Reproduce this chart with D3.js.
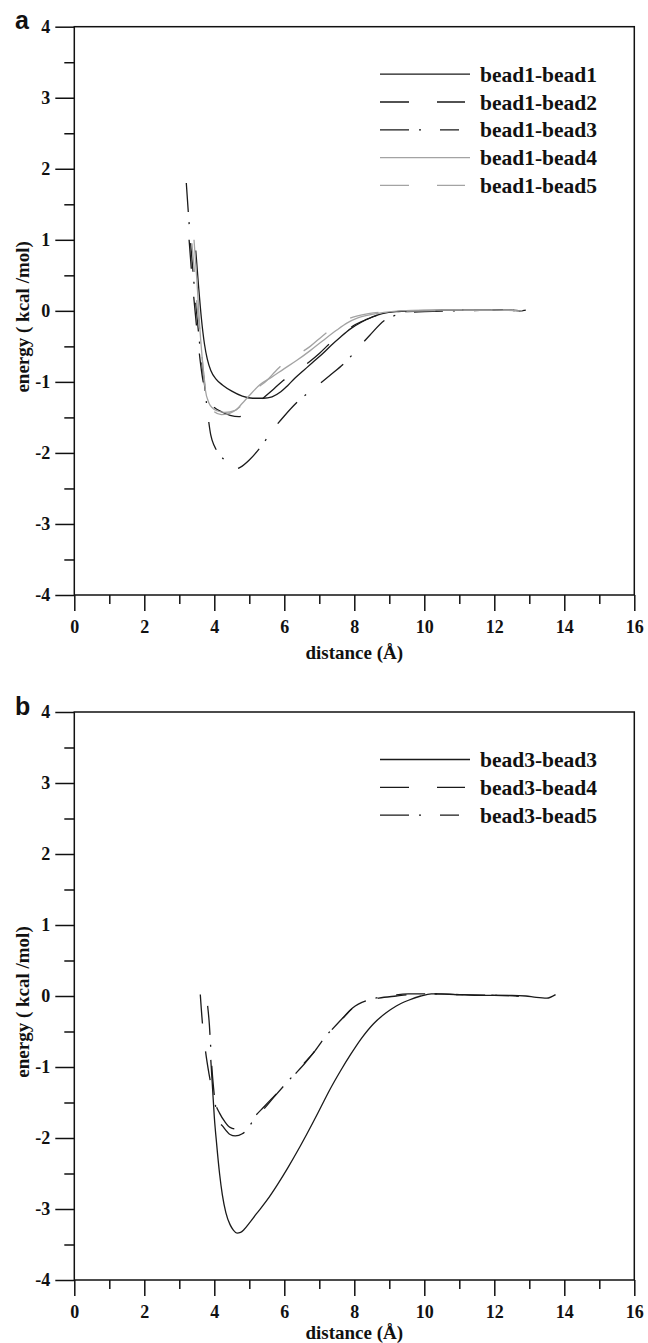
<!DOCTYPE html>
<html><head><meta charset="utf-8">
<script src="https://cdn.jsdelivr.net/npm/d3@7"></script>
<style>html,body{margin:0;padding:0;background:#fff;}svg{display:block;}</style>
</head><body>
<script>
// ---------- data ----------
const xMajorTicks = [0, 2, 4, 6, 8, 10, 12, 14, 16];
const xMinorTicks = [1, 3, 5, 7, 9, 11, 13, 15];
const yMajorTicks = [-4, -3, -2, -1, 0, 1, 2, 3, 4];
const yMinorTicks = [-3.5, -2.5, -1.5, -0.5, 0.5, 1.5, 2.5, 3.5];
const xTitle = "distance (Å)";
const yTitle = "energy ( kcal /mol)";

const namesA = ["bead1-bead1", "bead1-bead2", "bead1-bead3", "bead1-bead4", "bead1-bead5"];
const bead1bead1 = [[3.47,0.85],[3.55,0.35],[3.63,-0.1],[3.72,-0.47],[3.8,-0.68],[3.9,-0.84],[4.05,-0.96],[4.25,-1.05],[4.5,-1.13],[4.8,-1.2],[5.1,-1.23],[5.4,-1.23],[5.65,-1.21],[5.9,-1.14],[6.1,-1.05],[6.3,-0.95],[6.55,-0.84],[6.8,-0.73],[7.1,-0.6],[7.35,-0.48],[7.6,-0.37],[7.9,-0.25],[8.2,-0.16],[8.5,-0.09],[8.8,-0.04],[9.2,-0.01],[9.7,0.0],[10.5,0.01],[11.5,0.01],[12.5,0.01],[12.75,0.0],[12.9,0.01]];
const bead1bead2 = [[3.28,1.0],[3.35,0.55],[3.45,0.0],[3.55,-0.5],[3.65,-0.9],[3.75,-1.15],[3.85,-1.28],[4.0,-1.36],[4.2,-1.42],[4.45,-1.47],[4.7,-1.49],[4.85,-1.46],[5.05,-1.38],[5.35,-1.25],[5.65,-1.12],[5.92,-1.0],[6.3,-0.87],[6.71,-0.72],[7.0,-0.6],[7.3,-0.46],[7.65,-0.33],[7.97,-0.21],[8.35,-0.12],[8.73,-0.05],[9.2,-0.02],[10,0.0],[11,0.01],[12,0.01],[12.8,0.0]];
const bead1bead3 = [[3.2,1.8],[3.3,1.1],[3.4,0.5],[3.5,-0.05],[3.6,-0.55],[3.7,-0.95],[3.8,-1.4],[3.9,-1.75],[4.0,-1.9],[4.15,-2.02],[4.35,-2.13],[4.55,-2.23],[4.75,-2.2],[5.0,-2.1],[5.35,-1.9],[5.65,-1.69],[6.0,-1.48],[6.4,-1.27],[6.85,-1.09],[7.3,-0.91],[7.75,-0.72],[8.1,-0.53],[8.45,-0.34],[8.85,-0.14],[9.4,-0.04],[10,-0.01],[11,0.0],[12,0.01],[12.8,0.0]];
const bead1bead4 = [[3.42,1.0],[3.5,0.45],[3.59,-0.27],[3.67,-0.75],[3.74,-1.1],[3.85,-1.3],[3.95,-1.37],[4.1,-1.41],[4.3,-1.43],[4.6,-1.4],[4.8,-1.3],[4.95,-1.22],[5.3,-1.04],[5.65,-0.93],[5.98,-0.82],[6.35,-0.7],[6.74,-0.56],[7.1,-0.42],[7.5,-0.27],[7.8,-0.17],[8.1,-0.1],[8.5,-0.05],[8.85,-0.02],[9.3,0.0],[10,0.01],[11,0.01],[12,0.01],[12.8,0.0]];
const bead1bead5 = [[3.36,0.95],[3.45,0.45],[3.52,0.0],[3.58,-0.25],[3.66,-0.7],[3.74,-1.06],[3.85,-1.3],[4.0,-1.42],[4.2,-1.46],[4.4,-1.45],[4.6,-1.4],[4.8,-1.32],[4.93,-1.24],[5.2,-1.1],[5.5,-0.98],[5.75,-0.85],[6.02,-0.72],[6.4,-0.61],[6.74,-0.5],[7.1,-0.35],[7.5,-0.2],[7.9,-0.1],[8.4,-0.04],[9.0,-0.01],[10,0.0],[11,0.01],[12,0.01],[12.8,0.0]];

const namesB = ["bead3-bead3", "bead3-bead4", "bead3-bead5"];
const bead3bead3 = [[3.9,-0.9],[3.95,-1.3],[4.0,-1.7],[4.07,-2.1],[4.15,-2.5],[4.23,-2.8],[4.33,-3.05],[4.45,-3.22],[4.55,-3.3],[4.65,-3.34],[4.75,-3.33],[4.85,-3.29],[5.0,-3.2],[5.2,-3.07],[5.5,-2.88],[5.8,-2.66],[6.1,-2.42],[6.45,-2.12],[6.8,-1.8],[7.05,-1.56],[7.3,-1.32],[7.6,-1.06],[7.9,-0.82],[8.2,-0.6],[8.55,-0.39],[8.9,-0.24],[9.2,-0.14],[9.55,-0.06],[9.9,0.0],[10.2,0.03],[10.5,0.03],[11,0.02],[11.5,0.01],[12,0.01],[12.5,0.01],[12.9,0.0],[13.2,-0.02],[13.5,-0.03],[13.75,0.02]];
const bead3bead4 = [[3.6,0.02],[3.66,-0.38],[3.75,-0.78],[3.85,-1.1],[3.95,-1.35],[4.02,-1.5],[4.15,-1.65],[4.3,-1.77],[4.45,-1.85],[4.7,-1.88],[4.95,-1.82],[5.15,-1.7],[5.4,-1.57],[5.73,-1.4],[6.05,-1.24],[6.31,-1.1],[6.6,-0.94],[6.83,-0.8],[7.1,-0.62],[7.35,-0.48],[7.65,-0.32],[7.93,-0.18],[8.3,-0.08],[8.7,-0.03],[9.2,0.0],[9.6,0.02],[10.2,0.03],[11,0.02],[12,0.01],[12.7,0.0]];
const bead3bead5 = [[3.81,-0.14],[3.86,-0.41],[3.89,-0.66],[3.93,-1.0],[3.98,-1.3],[4.05,-1.6],[4.11,-1.74],[4.25,-1.84],[4.45,-1.95],[4.6,-1.97],[4.8,-1.94],[4.97,-1.86],[5.15,-1.72],[5.38,-1.61],[5.71,-1.42],[6.07,-1.22],[6.35,-1.07],[6.6,-0.93],[6.85,-0.79],[7.16,-0.58],[7.4,-0.45],[7.7,-0.3],[7.95,-0.17],[8.45,-0.05],[9.0,0.0],[9.54,0.03],[10.2,0.03],[11,0.02],[12,0.01],[12.7,0.0]];

// ---------- styles (not data) ----------
const BLACK = "#1a1a1a", GRAY = "#a3a3a3";
const styles = {
  solid:   {dash: null, len: 90},
  dash:    {dash: "29,28", len: 85},
  dashdot: {dash: "29,10,2,19", len: 79}
};

const W = 648, H = 1343;
const svg = d3.select("body").append("svg").attr("width", W).attr("height", H);
const serif = "'Liberation Serif','Times New Roman',serif";
const sans = "'Liberation Sans',Arial,sans-serif";
const fmt = d => String(d);

function panel(cfg) {
  const x = d3.scaleLinear().domain([0, 16]).range([74.3, 634.3]);
  const y = d3.scaleLinear().domain([-4, 4]).range([cfg.bottom, cfg.top]);
  const g = svg.append("g");

  const yMinor = g.append("g").attr("transform", `translate(${x(0)},0)`)
    .call(d3.axisLeft(y).tickValues(yMinorTicks).tickSize(10).tickFormat(""));
  const yMajor = g.append("g").attr("transform", `translate(${x(0)},0)`)
    .call(d3.axisLeft(y).tickValues(yMajorTicks).tickSize(19).tickPadding(5).tickFormat(fmt));
  const xMinor = g.append("g").attr("transform", `translate(0,${y(-4)})`)
    .call(d3.axisBottom(x).tickValues(xMinorTicks).tickSize(9).tickFormat(""));
  const xMajor = g.append("g").attr("transform", `translate(0,${y(-4)})`)
    .call(d3.axisBottom(x).tickValues(xMajorTicks).tickSize(16).tickPadding(9).tickFormat(fmt));
  [yMinor, yMajor, xMinor, xMajor].forEach(a => {
    a.attr("font-family", null).attr("font-size", null);
    a.select(".domain").remove();
    a.selectAll("line").attr("stroke", "#111").attr("stroke-width", 1.5);
    a.selectAll("text")
      .style("font-family", serif).style("font-weight", "bold")
      .style("font-size", "18px").attr("fill", "#111");
  });

  g.append("rect").attr("x", x(0)).attr("y", y(4)).attr("width", x(16) - x(0)).attr("height", y(-4) - y(4))
    .attr("fill", "none").attr("stroke", "#111").attr("stroke-width", 1.5);

  const line = d3.line().x(d => x(d[0])).y(d => y(d[1])).curve(d3.curveMonotoneX);
  cfg.series.forEach(s => {
    g.append("path").datum(s.data).attr("d", line).attr("fill", "none")
      .attr("stroke", s.color).attr("stroke-width", 1.3)
      .attr("stroke-dasharray", styles[s.style].dash);
  });

  cfg.series.forEach((s, i) => {
    const ly = cfg.top + 47.5 + i * 27.8;
    g.append("line").attr("x1", 380).attr("x2", 380 + styles[s.style].len).attr("y1", ly).attr("y2", ly)
      .attr("stroke", s.color).attr("stroke-width", 1.3).attr("stroke-dasharray", styles[s.style].dash);
    g.append("text").attr("x", 480).attr("y", ly + 7.5).text(s.name)
      .style("font-family", serif).style("font-weight", "bold").style("font-size", "21.5px").attr("fill", "#111");
  });

  g.append("text").attr("x", (x(0) + x(16)) / 2).attr("y", cfg.titleY).attr("text-anchor", "middle")
    .text(xTitle).style("font-family", serif).style("font-weight", "bold").style("font-size", "19px").attr("fill", "#111");
  g.append("text").attr("transform", `translate(29,${(y(4) + y(-4)) / 2 + 6}) rotate(-90)`)
    .attr("text-anchor", "middle").text(yTitle)
    .style("font-family", serif).style("font-weight", "bold").style("font-size", "19px").attr("fill", "#111");

  g.append("text").attr("x", 15).attr("y", cfg.top + 2.5).text(cfg.letter)
    .style("font-family", sans).style("font-weight", "bold").style("font-size", "25px").attr("fill", "#111");
}

panel({
  letter: "a", top: 26.7, bottom: 595, titleY: 659,
  series: [
    {name: namesA[0], data: bead1bead1, color: BLACK, style: "solid"},
    {name: namesA[1], data: bead1bead2, color: BLACK, style: "dash"},
    {name: namesA[2], data: bead1bead3, color: BLACK, style: "dashdot"},
    {name: namesA[3], data: bead1bead4, color: GRAY, style: "solid"},
    {name: namesA[4], data: bead1bead5, color: GRAY, style: "dash"}
  ]
});
panel({
  letter: "b", top: 712, bottom: 1280, titleY: 1339,
  series: [
    {name: namesB[0], data: bead3bead3, color: BLACK, style: "solid"},
    {name: namesB[1], data: bead3bead4, color: BLACK, style: "dash"},
    {name: namesB[2], data: bead3bead5, color: BLACK, style: "dashdot"}
  ]
});
</script>
</body></html>
